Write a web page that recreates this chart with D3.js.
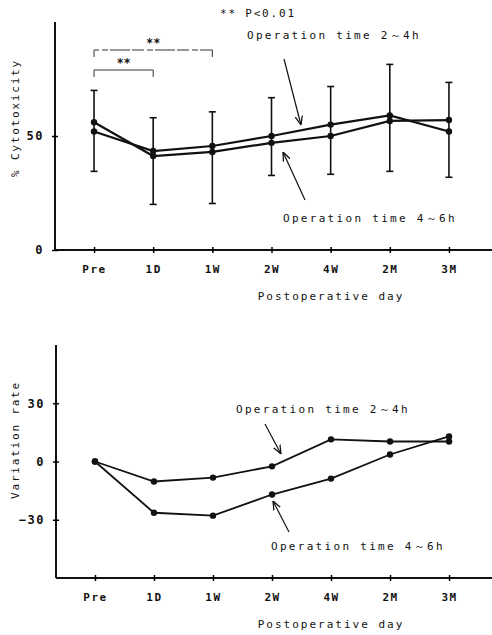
<!DOCTYPE html>
<html>
<head>
<meta charset="utf-8">
<script src="https://cdn.jsdelivr.net/npm/d3@7"></script>
<style>
  body { margin: 0; background: #fff; }
  text { font-family: "DejaVu Sans Mono", "Liberation Mono", monospace; fill: #111; }
</style>
</head>
<body>
<svg></svg>
<script>
// categories
let days = ["Pre", "1D", "1W", "2W", "4W", "2M", "3M"];

// % cytotoxicity (top panel)
let cyto24 = [52, 43.4, 45.6, 50, 55, 59, 52];
let cyto46 = [56, 41.2, 43, 47, 50, 56.6, 57];
let errHigh = [70, 58, 60.6, 66.8, 71.7, 81.4, 73.5];
let errLow = [34.5, 20, 20.4, 32.7, 33.2, 34.5, 31.9];
let cytoTicks = [0, 50];

// variation rate (bottom panel)
let var24 = [0, -10.3, -8.3, -2.5, 11.4, 10.3, 10.3];
let var46 = [0, -26.4, -27.9, -17, -8.8, 3.6, 12.9];
let varTicks = [-30, 0, 30];

let width = 492;
let height = 635;

let svg = d3.select("svg")
    .attr("width", width)
    .attr("height", height);

svg.append("defs").append("marker")
    .attr("id", "head")
    .attr("viewBox", "0 0 10 10")
    .attr("refX", 10).attr("refY", 5)
    .attr("markerWidth", 9).attr("markerHeight", 9)
    .attr("markerUnits", "userSpaceOnUse")
    .attr("orient", "auto")
    .append("path")
    .attr("d", "M0,1 L10,5 L0,9")
    .attr("fill", "none")
    .attr("stroke", "#111")
    .attr("stroke-width", 1.4);

function panel(opt) {
    let g = svg.append("g");

    let scaleX = d3.scalePoint()
        .domain(days)
        .range([opt.left, 488])
        .padding(0.66);

    let scaleY = d3.scaleLinear()
        .domain(opt.domain)
        .range([opt.bottom, opt.top]);

    // axes frame
    g.append("line")
        .attr("x1", opt.left).attr("x2", opt.left)
        .attr("y1", opt.top).attr("y2", opt.bottom)
        .attr("stroke", "#111").attr("stroke-width", 2);
    g.append("line")
        .attr("x1", opt.left).attr("x2", width)
        .attr("y1", opt.bottom).attr("y2", opt.bottom)
        .attr("stroke", "#111").attr("stroke-width", 2);

    // x axis
    let ax = g.append("g")
        .attr("transform", `translate(0, ${opt.bottom})`)
        .call(d3.axisBottom(scaleX).tickSize(3).tickSizeOuter(0).tickPadding(12));
    ax.select(".domain").remove();
    ax.selectAll(".tick line").attr("y1", -3).attr("stroke-width", 1.5);
    ax.selectAll(".tick text")
        .style("font-family", "DejaVu Sans Mono")
        .style("font-size", "11px")
        .style("font-weight", "bold")
        .style("letter-spacing", "1.5px");

    // y axis
    let ay = g.append("g")
        .attr("transform", `translate(${opt.left}, 0)`)
        .call(d3.axisLeft(scaleY).tickValues(opt.ticks).tickSize(3).tickPadding(8));
    ay.select(".domain").remove();
    ay.selectAll(".tick line").attr("x1", 3).attr("x2", -3).attr("stroke-width", 1.5);
    ay.selectAll(".tick text")
        .style("font-family", "DejaVu Sans Mono")
        .style("font-size", "12px")
        .style("font-weight", "bold")
        .style("letter-spacing", "1.5px");

    // axis titles
    g.append("text")
        .attr("x", 331).attr("y", opt.bottom + 50)
        .attr("text-anchor", "middle")
        .style("font-size", "11px")
        .style("letter-spacing", "2px")
        .text("Postoperative day");
    g.append("text")
        .attr("transform", `translate(19, ${opt.labelY}) rotate(-90)`)
        .attr("text-anchor", "middle")
        .style("font-size", "11px")
        .style("letter-spacing", "1.8px")
        .text(opt.yLabel);

    return {g: g, x: scaleX, y: scaleY};
}

function series(p, vals, sw) {
    let line = d3.line()
        .x((d, i) => p.x(days[i]))
        .y(d => p.y(d));
    p.g.append("path")
        .datum(vals)
        .attr("d", line)
        .attr("fill", "none")
        .attr("stroke", "#111")
        .attr("stroke-width", sw);
    p.g.selectAll(null)
        .data(vals)
        .enter()
        .append("circle")
        .attr("cx", (d, i) => p.x(days[i]))
        .attr("cy", d => p.y(d))
        .attr("r", 3.2)
        .attr("fill", "#111");
}

function note(g, txt, tx, ty, a) {
    g.append("text")
        .attr("x", tx).attr("y", ty)
        .style("font-size", "11px")
        .style("letter-spacing", "2.3px")
        .text(txt);
    g.append("line")
        .attr("x1", a[0]).attr("y1", a[1])
        .attr("x2", a[2]).attr("y2", a[3])
        .attr("stroke", "#111").attr("stroke-width", 1.2)
        .attr("marker-end", "url(#head)");
}

// ---------- top panel ----------
let topP = panel({left: 55, top: 22, bottom: 250, domain: [0, 100], ticks: cytoTicks,
                 yLabel: "% Cytotoxicity", labelY: 118});

// error bars
days.forEach(function(d, i) {
    let x = topP.x(d);
    topP.g.append("line")
        .attr("x1", x).attr("x2", x)
        .attr("y1", topP.y(errHigh[i])).attr("y2", topP.y(errLow[i]))
        .attr("stroke", "#111").attr("stroke-width", 1.6);
    [errHigh[i], errLow[i]].forEach(function(v) {
        topP.g.append("line")
            .attr("x1", x - 3.5).attr("x2", x + 3.5)
            .attr("y1", topP.y(v)).attr("y2", topP.y(v))
            .attr("stroke", "#111").attr("stroke-width", 1.6);
    });
});

series(topP, cyto24, 2.2);
series(topP, cyto46, 2.2);

// significance brackets
function bracket(from, to, yy, label) {
    let x1 = topP.x(from), x2 = topP.x(to);
    topP.g.append("path")
        .attr("d", `M${x1},${yy + 7} V${yy} H${x2} V${yy + 7}`)
        .attr("fill", "none")
        .attr("stroke", "#333")
        .attr("stroke-width", 1)
        .attr("stroke-dasharray", to === "1W" ? "12,3,6,2,20,2" : null);
    topP.g.append("text")
        .attr("x", (x1 + x2) / 2).attr("y", yy - 3)
        .attr("text-anchor", "middle")
        .style("font-size", "12px")
        .style("font-weight", "bold")
        .text(label);
}
bracket("Pre", "1W", 50, "**");
bracket("Pre", "1D", 70, "**");

topP.g.append("text")
    .attr("x", 220).attr("y", 17)
    .style("font-size", "11px")
    .style("letter-spacing", "1.8px")
    .text("** P<0.01");

note(topP.g, "Operation time 2～4h", 247, 39, [284, 59, 301, 125]);
note(topP.g, "Operation time 4～6h", 283, 222, [305, 200, 283, 152]);

// ---------- bottom panel ----------
let botP = panel({left: 56, top: 345, bottom: 578, domain: [-60, 60], ticks: varTicks,
                 yLabel: "Variation rate", labelY: 440});

series(botP, var24, 1.8);
series(botP, var46, 1.8);

note(botP.g, "Operation time 2～4h", 236, 413, [265, 424, 281, 454]);
note(botP.g, "Operation time 4～6h", 271, 550, [289, 532, 273, 501]);
</script>
</body>
</html>
